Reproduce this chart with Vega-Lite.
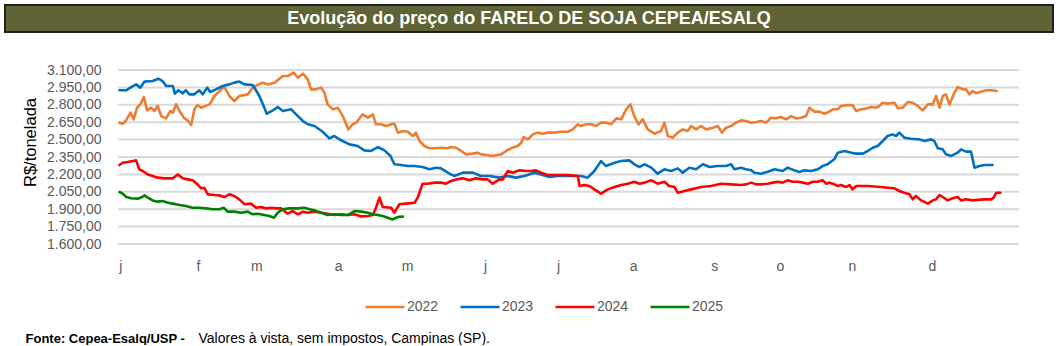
{
  "$schema": "https://vega.github.io/schema/vega-lite/v6.json",
  "padding": {"left": 4, "top": 4, "right": 5, "bottom": 0},
  "background": "white",
  "config": {"font": "Liberation Sans", "view": {"stroke": null}},
  "datasets": {
    "grade": [{"g":1600},{"g":1750},{"g":1900},{"g":2050},{"g":2200},{"g":2350},{"g":2500},{"g":2650},{"g":2800},{"g":2950},{"g":3100}],
    "precos": [
      {"ano":"2022","dia":0.4,"preco":2646},{"ano":"2022","dia":1.3,"preco":2637},{"ano":"2022","dia":2.3,"preco":2666},{"ano":"2022","dia":3.5,"preco":2732},{"ano":"2022","dia":4.4,"preco":2675},{"ano":"2022","dia":5.4,"preco":2775},{"ano":"2022","dia":6.3,"preco":2804},{"ano":"2022","dia":7.3,"preco":2867},{"ano":"2022","dia":8.2,"preco":2752},{"ano":"2022","dia":9.3,"preco":2775},{"ano":"2022","dia":10.3,"preco":2747},{"ano":"2022","dia":11.2,"preco":2790},{"ano":"2022","dia":12.2,"preco":2703},{"ano":"2022","dia":13.6,"preco":2683},{"ano":"2022","dia":14.8,"preco":2747},{"ano":"2022","dia":15.5,"preco":2732},{"ano":"2022","dia":16.4,"preco":2804},{"ano":"2022","dia":17.4,"preco":2747},{"ano":"2022","dia":18.6,"preco":2689},{"ano":"2022","dia":19.9,"preco":2660},{"ano":"2022","dia":20.7,"preco":2626},{"ano":"2022","dia":21.6,"preco":2761},{"ano":"2022","dia":22.5,"preco":2798},{"ano":"2022","dia":23.5,"preco":2775},{"ano":"2022","dia":25.9,"preco":2804},{"ano":"2022","dia":27.3,"preco":2876},{"ano":"2022","dia":29.2,"preco":2933},{"ano":"2022","dia":30.1,"preco":2953},{"ano":"2022","dia":31.5,"preco":2876},{"ano":"2022","dia":32.9,"preco":2833},{"ano":"2022","dia":34.3,"preco":2876},{"ano":"2022","dia":36.7,"preco":2890},{"ano":"2022","dia":38.1,"preco":2948},{"ano":"2022","dia":39.5,"preco":2971},{"ano":"2022","dia":40.9,"preco":2991},{"ano":"2022","dia":42.4,"preco":2976},{"ano":"2022","dia":44.3,"preco":2991},{"ano":"2022","dia":46.6,"preco":3048},{"ano":"2022","dia":48.0,"preco":3048},{"ano":"2022","dia":49.7,"preco":3077},{"ano":"2022","dia":50.9,"preco":3034},{"ano":"2022","dia":52.3,"preco":3068},{"ano":"2022","dia":53.7,"preco":3020},{"ano":"2022","dia":54.6,"preco":2933},{"ano":"2022","dia":56.0,"preco":2933},{"ano":"2022","dia":57.5,"preco":2948},{"ano":"2022","dia":58.4,"preco":2905},{"ano":"2022","dia":59.3,"preco":2804},{"ano":"2022","dia":60.8,"preco":2761},{"ano":"2022","dia":62.2,"preco":2775},{"ano":"2022","dia":63.6,"preco":2703},{"ano":"2022","dia":65.2,"preco":2588},{"ano":"2022","dia":66.4,"preco":2632},{"ano":"2022","dia":67.4,"preco":2646},{"ano":"2022","dia":69.2,"preco":2718},{"ano":"2022","dia":70.7,"preco":2689},{"ano":"2022","dia":72.1,"preco":2718},{"ano":"2022","dia":73.0,"preco":2632},{"ano":"2022","dia":74.4,"preco":2632},{"ano":"2022","dia":75.9,"preco":2617},{"ano":"2022","dia":77.3,"preco":2632},{"ano":"2022","dia":78.2,"preco":2637},{"ano":"2022","dia":79.2,"preco":2560},{"ano":"2022","dia":80.6,"preco":2574},{"ano":"2022","dia":82.0,"preco":2568},{"ano":"2022","dia":83.4,"preco":2531},{"ano":"2022","dia":84.3,"preco":2560},{"ano":"2022","dia":85.3,"preco":2488},{"ano":"2022","dia":86.7,"preco":2445},{"ano":"2022","dia":88.1,"preco":2425},{"ano":"2022","dia":89.5,"preco":2425},{"ano":"2022","dia":91.4,"preco":2430},{"ano":"2022","dia":93.3,"preco":2425},{"ano":"2022","dia":94.2,"preco":2436},{"ano":"2022","dia":95.7,"preco":2430},{"ano":"2022","dia":97.1,"preco":2402},{"ano":"2022","dia":98.5,"preco":2373},{"ano":"2022","dia":100.4,"preco":2379},{"ano":"2022","dia":101.8,"preco":2387},{"ano":"2022","dia":102.7,"preco":2373},{"ano":"2022","dia":104.2,"preco":2367},{"ano":"2022","dia":106.0,"preco":2359},{"ano":"2022","dia":108.4,"preco":2373},{"ano":"2022","dia":109.8,"preco":2402},{"ano":"2022","dia":111.2,"preco":2425},{"ano":"2022","dia":113.1,"preco":2445},{"ano":"2022","dia":114.1,"preco":2473},{"ano":"2022","dia":114.8,"preco":2522},{"ano":"2022","dia":116.0,"preco":2502},{"ano":"2022","dia":117.4,"preco":2545},{"ano":"2022","dia":118.8,"preco":2560},{"ano":"2022","dia":120.2,"preco":2551},{"ano":"2022","dia":121.6,"preco":2560},{"ano":"2022","dia":123.5,"preco":2560},{"ano":"2022","dia":125.4,"preco":2568},{"ano":"2022","dia":127.3,"preco":2568},{"ano":"2022","dia":128.7,"preco":2588},{"ano":"2022","dia":130.1,"preco":2632},{"ano":"2022","dia":131.0,"preco":2617},{"ano":"2022","dia":132.5,"preco":2632},{"ano":"2022","dia":133.9,"preco":2632},{"ano":"2022","dia":135.3,"preco":2617},{"ano":"2022","dia":136.7,"preco":2646},{"ano":"2022","dia":138.1,"preco":2646},{"ano":"2022","dia":139.5,"preco":2632},{"ano":"2022","dia":141.0,"preco":2683},{"ano":"2022","dia":142.4,"preco":2675},{"ano":"2022","dia":143.8,"preco":2761},{"ano":"2022","dia":145.0,"preco":2804},{"ano":"2022","dia":146.1,"preco":2703},{"ano":"2022","dia":147.3,"preco":2632},{"ano":"2022","dia":148.5,"preco":2675},{"ano":"2022","dia":149.9,"preco":2588},{"ano":"2022","dia":151.8,"preco":2551},{"ano":"2022","dia":153.7,"preco":2574},{"ano":"2022","dia":154.6,"preco":2646},{"ano":"2022","dia":155.6,"preco":2531},{"ano":"2022","dia":157.0,"preco":2517},{"ano":"2022","dia":158.4,"preco":2560},{"ano":"2022","dia":159.8,"preco":2588},{"ano":"2022","dia":161.2,"preco":2574},{"ano":"2022","dia":162.2,"preco":2617},{"ano":"2022","dia":163.6,"preco":2588},{"ano":"2022","dia":165.0,"preco":2617},{"ano":"2022","dia":166.4,"preco":2588},{"ano":"2022","dia":168.3,"preco":2603},{"ano":"2022","dia":169.7,"preco":2617},{"ano":"2022","dia":170.9,"preco":2560},{"ano":"2022","dia":172.1,"preco":2603},{"ano":"2022","dia":173.5,"preco":2617},{"ano":"2022","dia":174.9,"preco":2646},{"ano":"2022","dia":176.3,"preco":2666},{"ano":"2022","dia":177.7,"preco":2660},{"ano":"2022","dia":179.2,"preco":2646},{"ano":"2022","dia":180.6,"preco":2652},{"ano":"2022","dia":182.0,"preco":2660},{"ano":"2022","dia":183.4,"preco":2646},{"ano":"2022","dia":184.8,"preco":2689},{"ano":"2022","dia":186.2,"preco":2683},{"ano":"2022","dia":187.6,"preco":2695},{"ano":"2022","dia":189.1,"preco":2675},{"ano":"2022","dia":190.5,"preco":2703},{"ano":"2022","dia":191.9,"preco":2683},{"ano":"2022","dia":193.3,"preco":2689},{"ano":"2022","dia":194.7,"preco":2703},{"ano":"2022","dia":195.7,"preco":2775},{"ano":"2022","dia":197.1,"preco":2741},{"ano":"2022","dia":198.5,"preco":2741},{"ano":"2022","dia":199.9,"preco":2723},{"ano":"2022","dia":201.3,"preco":2741},{"ano":"2022","dia":202.3,"preco":2761},{"ano":"2022","dia":203.7,"preco":2761},{"ano":"2022","dia":204.6,"preco":2790},{"ano":"2022","dia":206.5,"preco":2798},{"ano":"2022","dia":207.9,"preco":2795},{"ano":"2022","dia":208.9,"preco":2746},{"ano":"2022","dia":210.3,"preco":2761},{"ano":"2022","dia":211.7,"preco":2767},{"ano":"2022","dia":213.1,"preco":2781},{"ano":"2022","dia":214.5,"preco":2775},{"ano":"2022","dia":215.5,"preco":2790},{"ano":"2022","dia":216.4,"preco":2818},{"ano":"2022","dia":217.8,"preco":2810},{"ano":"2022","dia":219.7,"preco":2818},{"ano":"2022","dia":220.7,"preco":2770},{"ano":"2022","dia":222.1,"preco":2775},{"ano":"2022","dia":223.5,"preco":2824},{"ano":"2022","dia":224.9,"preco":2818},{"ano":"2022","dia":226.3,"preco":2790},{"ano":"2022","dia":227.7,"preco":2752},{"ano":"2022","dia":229.2,"preco":2804},{"ano":"2022","dia":230.6,"preco":2804},{"ano":"2022","dia":231.5,"preco":2876},{"ano":"2022","dia":232.5,"preco":2775},{"ano":"2022","dia":233.4,"preco":2876},{"ano":"2022","dia":234.3,"preco":2890},{"ano":"2022","dia":235.3,"preco":2804},{"ano":"2022","dia":236.7,"preco":2905},{"ano":"2022","dia":237.6,"preco":2953},{"ano":"2022","dia":239.1,"preco":2933},{"ano":"2022","dia":240.0,"preco":2933},{"ano":"2022","dia":240.9,"preco":2890},{"ano":"2022","dia":241.9,"preco":2919},{"ano":"2022","dia":242.8,"preco":2899},{"ano":"2022","dia":244.2,"preco":2913},{"ano":"2022","dia":245.7,"preco":2925},{"ano":"2022","dia":247.1,"preco":2925},{"ano":"2022","dia":248.7,"preco":2919},
      {"ano":"2023","dia":0.4,"preco":2925},{"ano":"2023","dia":2.3,"preco":2925},{"ano":"2023","dia":3.7,"preco":2953},{"ano":"2023","dia":5.1,"preco":2976},{"ano":"2023","dia":6.3,"preco":2948},{"ano":"2023","dia":7.5,"preco":3000},{"ano":"2023","dia":9.8,"preco":3005},{"ano":"2023","dia":11.4,"preco":3025},{"ano":"2023","dia":12.6,"preco":3005},{"ano":"2023","dia":13.6,"preco":2962},{"ano":"2023","dia":15.5,"preco":2962},{"ano":"2023","dia":16.1,"preco":2896},{"ano":"2023","dia":17.1,"preco":2925},{"ano":"2023","dia":18.3,"preco":2899},{"ano":"2023","dia":19.2,"preco":2925},{"ano":"2023","dia":20.2,"preco":2890},{"ano":"2023","dia":21.6,"preco":2890},{"ano":"2023","dia":23.0,"preco":2925},{"ano":"2023","dia":24.0,"preco":2890},{"ano":"2023","dia":25.2,"preco":2948},{"ano":"2023","dia":26.1,"preco":2910},{"ano":"2023","dia":27.7,"preco":2933},{"ano":"2023","dia":29.6,"preco":2962},{"ano":"2023","dia":31.5,"preco":2976},{"ano":"2023","dia":32.9,"preco":2991},{"ano":"2023","dia":34.3,"preco":3000},{"ano":"2023","dia":35.8,"preco":2976},{"ano":"2023","dia":38.1,"preco":2971},{"ano":"2023","dia":40.0,"preco":2876},{"ano":"2023","dia":42.1,"preco":2723},{"ano":"2023","dia":43.8,"preco":2752},{"ano":"2023","dia":45.2,"preco":2781},{"ano":"2023","dia":46.6,"preco":2746},{"ano":"2023","dia":49.0,"preco":2761},{"ano":"2023","dia":50.4,"preco":2718},{"ano":"2023","dia":52.3,"preco":2660},{"ano":"2023","dia":53.7,"preco":2632},{"ano":"2023","dia":55.6,"preco":2617},{"ano":"2023","dia":57.9,"preco":2568},{"ano":"2023","dia":59.8,"preco":2511},{"ano":"2023","dia":61.2,"preco":2531},{"ano":"2023","dia":63.1,"preco":2494},{"ano":"2023","dia":65.5,"preco":2459},{"ano":"2023","dia":67.8,"preco":2445},{"ano":"2023","dia":69.7,"preco":2407},{"ano":"2023","dia":71.6,"preco":2402},{"ano":"2023","dia":73.5,"preco":2436},{"ano":"2023","dia":75.4,"preco":2407},{"ano":"2023","dia":77.1,"preco":2359},{"ano":"2023","dia":78.2,"preco":2287},{"ano":"2023","dia":80.1,"preco":2281},{"ano":"2023","dia":82.0,"preco":2272},{"ano":"2023","dia":83.9,"preco":2272},{"ano":"2023","dia":86.2,"preco":2264},{"ano":"2023","dia":88.1,"preco":2244},{"ano":"2023","dia":90.0,"preco":2258},{"ano":"2023","dia":91.4,"preco":2252},{"ano":"2023","dia":93.3,"preco":2215},{"ano":"2023","dia":94.2,"preco":2200},{"ano":"2023","dia":95.2,"preco":2186},{"ano":"2023","dia":97.6,"preco":2215},{"ano":"2023","dia":100.4,"preco":2215},{"ano":"2023","dia":102.7,"preco":2186},{"ano":"2023","dia":105.1,"preco":2186},{"ano":"2023","dia":107.9,"preco":2172},{"ano":"2023","dia":110.3,"preco":2186},{"ano":"2023","dia":112.6,"preco":2172},{"ano":"2023","dia":115.0,"preco":2186},{"ano":"2023","dia":117.8,"preco":2215},{"ano":"2023","dia":119.7,"preco":2200},{"ano":"2023","dia":122.1,"preco":2178},{"ano":"2023","dia":124.4,"preco":2186},{"ano":"2023","dia":127.3,"preco":2186},{"ano":"2023","dia":131.0,"preco":2186},{"ano":"2023","dia":132.9,"preco":2172},{"ano":"2023","dia":134.8,"preco":2229},{"ano":"2023","dia":136.7,"preco":2315},{"ano":"2023","dia":138.1,"preco":2272},{"ano":"2023","dia":140.5,"preco":2301},{"ano":"2023","dia":142.4,"preco":2315},{"ano":"2023","dia":144.7,"preco":2321},{"ano":"2023","dia":146.1,"preco":2287},{"ano":"2023","dia":147.6,"preco":2264},{"ano":"2023","dia":149.0,"preco":2287},{"ano":"2023","dia":150.9,"preco":2258},{"ano":"2023","dia":152.7,"preco":2206},{"ano":"2023","dia":154.6,"preco":2244},{"ano":"2023","dia":156.5,"preco":2229},{"ano":"2023","dia":158.4,"preco":2252},{"ano":"2023","dia":159.8,"preco":2215},{"ano":"2023","dia":161.7,"preco":2258},{"ano":"2023","dia":163.6,"preco":2244},{"ano":"2023","dia":165.5,"preco":2287},{"ano":"2023","dia":167.4,"preco":2264},{"ano":"2023","dia":169.7,"preco":2272},{"ano":"2023","dia":172.1,"preco":2272},{"ano":"2023","dia":173.5,"preco":2287},{"ano":"2023","dia":174.4,"preco":2244},{"ano":"2023","dia":176.3,"preco":2258},{"ano":"2023","dia":177.7,"preco":2244},{"ano":"2023","dia":179.2,"preco":2235},{"ano":"2023","dia":180.1,"preco":2215},{"ano":"2023","dia":182.0,"preco":2206},{"ano":"2023","dia":183.9,"preco":2223},{"ano":"2023","dia":185.8,"preco":2244},{"ano":"2023","dia":188.1,"preco":2229},{"ano":"2023","dia":189.5,"preco":2258},{"ano":"2023","dia":191.4,"preco":2235},{"ano":"2023","dia":192.8,"preco":2221},{"ano":"2023","dia":194.2,"preco":2235},{"ano":"2023","dia":196.1,"preco":2229},{"ano":"2023","dia":198.0,"preco":2244},{"ano":"2023","dia":199.4,"preco":2272},{"ano":"2023","dia":200.8,"preco":2287},{"ano":"2023","dia":202.7,"preco":2330},{"ano":"2023","dia":203.7,"preco":2387},{"ano":"2023","dia":205.6,"preco":2402},{"ano":"2023","dia":207.5,"preco":2387},{"ano":"2023","dia":208.9,"preco":2379},{"ano":"2023","dia":210.8,"preco":2379},{"ano":"2023","dia":212.2,"preco":2402},{"ano":"2023","dia":213.6,"preco":2430},{"ano":"2023","dia":215.0,"preco":2445},{"ano":"2023","dia":216.4,"preco":2488},{"ano":"2023","dia":217.8,"preco":2531},{"ano":"2023","dia":219.2,"preco":2545},{"ano":"2023","dia":220.2,"preco":2531},{"ano":"2023","dia":221.1,"preco":2560},{"ano":"2023","dia":222.5,"preco":2517},{"ano":"2023","dia":224.4,"preco":2508},{"ano":"2023","dia":226.8,"preco":2502},{"ano":"2023","dia":228.2,"preco":2488},{"ano":"2023","dia":230.1,"preco":2502},{"ano":"2023","dia":231.0,"preco":2488},{"ano":"2023","dia":232.0,"preco":2425},{"ano":"2023","dia":233.4,"preco":2416},{"ano":"2023","dia":234.3,"preco":2373},{"ano":"2023","dia":235.8,"preco":2359},{"ano":"2023","dia":237.6,"preco":2387},{"ano":"2023","dia":238.6,"preco":2416},{"ano":"2023","dia":240.0,"preco":2396},{"ano":"2023","dia":241.4,"preco":2396},{"ano":"2023","dia":242.4,"preco":2258},{"ano":"2023","dia":243.8,"preco":2272},{"ano":"2023","dia":245.2,"preco":2281},{"ano":"2023","dia":247.5,"preco":2281},
      {"ano":"2024","dia":0.4,"preco":2281},{"ano":"2024","dia":1.3,"preco":2301},{"ano":"2024","dia":2.7,"preco":2307},{"ano":"2024","dia":4.2,"preco":2315},{"ano":"2024","dia":5.1,"preco":2321},{"ano":"2024","dia":6.0,"preco":2244},{"ano":"2024","dia":7.0,"preco":2229},{"ano":"2024","dia":8.4,"preco":2200},{"ano":"2024","dia":9.8,"preco":2186},{"ano":"2024","dia":11.2,"preco":2172},{"ano":"2024","dia":13.1,"preco":2166},{"ano":"2024","dia":15.5,"preco":2166},{"ano":"2024","dia":16.9,"preco":2200},{"ano":"2024","dia":18.3,"preco":2166},{"ano":"2024","dia":19.7,"preco":2157},{"ano":"2024","dia":21.1,"preco":2149},{"ano":"2024","dia":22.5,"preco":2114},{"ano":"2024","dia":23.5,"preco":2080},{"ano":"2024","dia":24.4,"preco":2085},{"ano":"2024","dia":25.4,"preco":2028},{"ano":"2024","dia":27.3,"preco":2022},{"ano":"2024","dia":28.7,"preco":2019},{"ano":"2024","dia":30.1,"preco":2005},{"ano":"2024","dia":31.5,"preco":2028},{"ano":"2024","dia":32.9,"preco":2014},{"ano":"2024","dia":34.3,"preco":1985},{"ano":"2024","dia":35.8,"preco":1942},{"ano":"2024","dia":37.6,"preco":1948},{"ano":"2024","dia":39.1,"preco":1913},{"ano":"2024","dia":40.5,"preco":1919},{"ano":"2024","dia":41.9,"preco":1907},{"ano":"2024","dia":43.3,"preco":1913},{"ano":"2024","dia":44.7,"preco":1907},{"ano":"2024","dia":46.1,"preco":1907},{"ano":"2024","dia":48.0,"preco":1861},{"ano":"2024","dia":49.4,"preco":1884},{"ano":"2024","dia":50.9,"preco":1856},{"ano":"2024","dia":52.3,"preco":1878},{"ano":"2024","dia":53.7,"preco":1870},{"ano":"2024","dia":55.6,"preco":1878},{"ano":"2024","dia":57.5,"preco":1870},{"ano":"2024","dia":59.3,"preco":1861},{"ano":"2024","dia":61.2,"preco":1850},{"ano":"2024","dia":63.1,"preco":1856},{"ano":"2024","dia":65.0,"preco":1850},{"ano":"2024","dia":66.9,"preco":1856},{"ano":"2024","dia":68.8,"preco":1838},{"ano":"2024","dia":70.7,"preco":1841},{"ano":"2024","dia":72.1,"preco":1850},{"ano":"2024","dia":73.0,"preco":1913},{"ano":"2024","dia":74.0,"preco":2000},{"ano":"2024","dia":74.9,"preco":1919},{"ano":"2024","dia":77.3,"preco":1913},{"ano":"2024","dia":78.2,"preco":1870},{"ano":"2024","dia":79.6,"preco":1942},{"ano":"2024","dia":81.5,"preco":1948},{"ano":"2024","dia":83.9,"preco":1956},{"ano":"2024","dia":84.8,"preco":2000},{"ano":"2024","dia":86.2,"preco":2120},{"ano":"2024","dia":87.6,"preco":2120},{"ano":"2024","dia":89.5,"preco":2129},{"ano":"2024","dia":91.4,"preco":2129},{"ano":"2024","dia":92.8,"preco":2120},{"ano":"2024","dia":94.2,"preco":2143},{"ano":"2024","dia":95.7,"preco":2157},{"ano":"2024","dia":97.6,"preco":2166},{"ano":"2024","dia":99.4,"preco":2149},{"ano":"2024","dia":101.3,"preco":2166},{"ano":"2024","dia":103.2,"preco":2157},{"ano":"2024","dia":104.6,"preco":2157},{"ano":"2024","dia":106.0,"preco":2120},{"ano":"2024","dia":107.5,"preco":2149},{"ano":"2024","dia":108.9,"preco":2157},{"ano":"2024","dia":110.3,"preco":2229},{"ano":"2024","dia":111.7,"preco":2215},{"ano":"2024","dia":113.6,"preco":2235},{"ano":"2024","dia":115.5,"preco":2229},{"ano":"2024","dia":116.9,"preco":2229},{"ano":"2024","dia":118.3,"preco":2235},{"ano":"2024","dia":119.7,"preco":2215},{"ano":"2024","dia":121.6,"preco":2195},{"ano":"2024","dia":123.5,"preco":2195},{"ano":"2024","dia":127.3,"preco":2195},{"ano":"2024","dia":130.1,"preco":2186},{"ano":"2024","dia":130.6,"preco":2100},{"ano":"2024","dia":132.0,"preco":2108},{"ano":"2024","dia":133.4,"preco":2100},{"ano":"2024","dia":134.8,"preco":2071},{"ano":"2024","dia":136.7,"preco":2034},{"ano":"2024","dia":138.6,"preco":2071},{"ano":"2024","dia":140.5,"preco":2091},{"ano":"2024","dia":142.4,"preco":2108},{"ano":"2024","dia":144.3,"preco":2120},{"ano":"2024","dia":146.1,"preco":2137},{"ano":"2024","dia":147.6,"preco":2120},{"ano":"2024","dia":149.0,"preco":2129},{"ano":"2024","dia":150.9,"preco":2149},{"ano":"2024","dia":152.7,"preco":2120},{"ano":"2024","dia":154.6,"preco":2137},{"ano":"2024","dia":156.0,"preco":2100},{"ano":"2024","dia":157.5,"preco":2091},{"ano":"2024","dia":158.4,"preco":2042},{"ano":"2024","dia":160.3,"preco":2057},{"ano":"2024","dia":162.2,"preco":2071},{"ano":"2024","dia":165.0,"preco":2091},{"ano":"2024","dia":167.8,"preco":2100},{"ano":"2024","dia":170.7,"preco":2120},{"ano":"2024","dia":173.5,"preco":2114},{"ano":"2024","dia":176.3,"preco":2108},{"ano":"2024","dia":177.7,"preco":2114},{"ano":"2024","dia":179.2,"preco":2129},{"ano":"2024","dia":180.6,"preco":2114},{"ano":"2024","dia":182.0,"preco":2114},{"ano":"2024","dia":183.9,"preco":2120},{"ano":"2024","dia":185.3,"preco":2129},{"ano":"2024","dia":186.7,"preco":2137},{"ano":"2024","dia":188.1,"preco":2129},{"ano":"2024","dia":189.5,"preco":2149},{"ano":"2024","dia":190.9,"preco":2137},{"ano":"2024","dia":192.4,"preco":2137},{"ano":"2024","dia":193.8,"preco":2129},{"ano":"2024","dia":195.2,"preco":2120},{"ano":"2024","dia":196.6,"preco":2137},{"ano":"2024","dia":198.0,"preco":2137},{"ano":"2024","dia":199.4,"preco":2149},{"ano":"2024","dia":200.4,"preco":2120},{"ano":"2024","dia":201.3,"preco":2129},{"ano":"2024","dia":202.3,"preco":2120},{"ano":"2024","dia":203.7,"preco":2100},{"ano":"2024","dia":204.6,"preco":2108},{"ano":"2024","dia":206.0,"preco":2091},{"ano":"2024","dia":207.0,"preco":2108},{"ano":"2024","dia":207.9,"preco":2071},{"ano":"2024","dia":208.9,"preco":2100},{"ano":"2024","dia":212.2,"preco":2100},{"ano":"2024","dia":215.9,"preco":2091},{"ano":"2024","dia":217.8,"preco":2085},{"ano":"2024","dia":219.7,"preco":2080},{"ano":"2024","dia":221.1,"preco":2057},{"ano":"2024","dia":222.5,"preco":2042},{"ano":"2024","dia":224.0,"preco":2028},{"ano":"2024","dia":224.9,"preco":1985},{"ano":"2024","dia":225.8,"preco":2014},{"ano":"2024","dia":227.3,"preco":1976},{"ano":"2024","dia":229.2,"preco":1948},{"ano":"2024","dia":230.6,"preco":1976},{"ano":"2024","dia":231.5,"preco":1985},{"ano":"2024","dia":232.5,"preco":2022},{"ano":"2024","dia":233.4,"preco":2005},{"ano":"2024","dia":234.8,"preco":1976},{"ano":"2024","dia":236.2,"preco":1994},{"ano":"2024","dia":237.6,"preco":2005},{"ano":"2024","dia":238.6,"preco":1976},{"ano":"2024","dia":240.0,"preco":1985},{"ano":"2024","dia":241.9,"preco":1976},{"ano":"2024","dia":245.2,"preco":1985},{"ano":"2024","dia":247.1,"preco":1985},{"ano":"2024","dia":247.8,"preco":2000},{"ano":"2024","dia":248.5,"preco":2042},{"ano":"2024","dia":249.7,"preco":2042},
      {"ano":"2025","dia":0.4,"preco":2048},{"ano":"2025","dia":1.3,"preco":2034},{"ano":"2025","dia":2.3,"preco":2005},{"ano":"2025","dia":3.7,"preco":1994},{"ano":"2025","dia":5.6,"preco":1991},{"ano":"2025","dia":6.5,"preco":2000},{"ano":"2025","dia":7.5,"preco":2019},{"ano":"2025","dia":8.4,"preco":2000},{"ano":"2025","dia":9.8,"preco":1976},{"ano":"2025","dia":11.2,"preco":1965},{"ano":"2025","dia":12.6,"preco":1971},{"ano":"2025","dia":14.1,"preco":1956},{"ano":"2025","dia":15.5,"preco":1948},{"ano":"2025","dia":17.4,"preco":1936},{"ano":"2025","dia":19.2,"preco":1927},{"ano":"2025","dia":21.1,"preco":1913},{"ano":"2025","dia":23.0,"preco":1913},{"ano":"2025","dia":24.9,"preco":1907},{"ano":"2025","dia":26.8,"preco":1899},{"ano":"2025","dia":28.7,"preco":1899},{"ano":"2025","dia":29.9,"preco":1913},{"ano":"2025","dia":31.0,"preco":1879},{"ano":"2025","dia":32.9,"preco":1879},{"ano":"2025","dia":34.8,"preco":1870},{"ano":"2025","dia":36.7,"preco":1879},{"ano":"2025","dia":38.1,"preco":1856},{"ano":"2025","dia":39.5,"preco":1861},{"ano":"2025","dia":41.4,"preco":1850},{"ano":"2025","dia":42.8,"preco":1841},{"ano":"2025","dia":44.1,"preco":1827},{"ano":"2025","dia":45.2,"preco":1870},{"ano":"2025","dia":46.6,"preco":1899},{"ano":"2025","dia":48.5,"preco":1907},{"ano":"2025","dia":50.9,"preco":1907},{"ano":"2025","dia":52.7,"preco":1913},{"ano":"2025","dia":54.2,"preco":1899},{"ano":"2025","dia":55.6,"preco":1890},{"ano":"2025","dia":57.5,"preco":1870},{"ano":"2025","dia":59.3,"preco":1850},{"ano":"2025","dia":61.2,"preco":1856},{"ano":"2025","dia":63.1,"preco":1850},{"ano":"2025","dia":65.0,"preco":1850},{"ano":"2025","dia":66.9,"preco":1884},{"ano":"2025","dia":68.8,"preco":1879},{"ano":"2025","dia":70.7,"preco":1870},{"ano":"2025","dia":72.1,"preco":1856},{"ano":"2025","dia":73.5,"preco":1850},{"ano":"2025","dia":74.9,"preco":1841},{"ano":"2025","dia":76.3,"preco":1827},{"ano":"2025","dia":77.7,"preco":1812},{"ano":"2025","dia":79.2,"preco":1833},{"ano":"2025","dia":80.6,"preco":1836}
    ]
  },
  "spacing": 38,
  "bounds": "flush",
  "vconcat": [
    {
      "width": 1048,
      "height": 27,
      "view": {"fill": "#606336", "stroke": "#1f1f1f", "strokeWidth": 2},
      "data": {"values": [{"titulo": "Evolução do preço do FARELO DE SOJA CEPEA/ESALQ"}]},
      "mark": {"type": "text", "color": "white", "fontWeight": "bold", "fontSize": 18, "font": "Liberation Sans", "baseline": "middle", "align": "center"},
      "encoding": {"text": {"field": "titulo", "type": "nominal"}}
    },
    {
      "width": 1048,
      "height": 174,
      "resolve": {"axis": {"x": "independent"}},
      "layer": [
        {
          "data": {"name": "grade"},
          "mark": {"type": "rule", "color": "#d9d9d9", "strokeWidth": 2},
          "encoding": {
            "y": {"field": "g", "type": "quantitative", "scale": {"domain": [1600, 3100], "nice": false, "zero": false},
              "axis": {"values": [1600, 1750, 1900, 2050, 2200, 2350, 2500, 2650, 2800, 2950, 3100],
                "labelExpr": "replace(replace(replace(format(datum.value, ',.2f'), ',', '#'), '.', ','), '#', '.')",
                "offset": -100, "domain": false, "ticks": false, "grid": false, "labelFontSize": 14, "labelColor": "#595959", "labelPadding": 4,
                "title": "R$/tonelada", "titleFontSize": 16.5, "titleFontWeight": "normal", "titleColor": "black",
                "titleX": -75, "titleY": 72, "titleAngle": -90, "titleAlign": "center", "titleBaseline": "middle"}},
            "x": {"datum": 0, "type": "quantitative", "scale": {"domain": [-32, 264.6], "nice": false, "zero": false},
              "axis": {"orient": "bottom", "labels": false, "ticks": false, "domain": false, "grid": false,
                "title": "Fonte: Cepea-Esalq/USP -", "titleFontSize": 13, "titleFontWeight": "bold", "titleColor": "black",
                "titleX": 20, "titleY": 94, "titleAlign": "left", "titleBaseline": "middle", "titleAnchor": null}},
            "x2": {"datum": 255}
          }
        },
        {
          "data": {"name": "precos"},
          "mark": {"type": "line", "strokeJoin": "round", "strokeCap": "round"},
          "encoding": {
            "x": {"field": "dia", "type": "quantitative", "scale": {"domain": [-32, 264.6], "nice": false, "zero": false},
              "axis": {"orient": "bottom", "values": [0.6, 22.6, 39.1, 62.3, 81.8, 103.9, 124.5, 145.8, 168.7, 187.3, 207.7, 230.3],
                "labelExpr": "datum.value < 10 ? 'j' : datum.value < 30 ? 'f' : datum.value < 50 ? 'm' : datum.value < 70 ? 'a' : datum.value < 90 ? 'm' : datum.value < 115 ? 'j' : datum.value < 135 ? 'j' : datum.value < 155 ? 'a' : datum.value < 178 ? 's' : datum.value < 198 ? 'o' : datum.value < 220 ? 'n' : 'd'",
                "domain": false, "ticks": false, "grid": false, "labelFontSize": 14, "labelColor": "#595959", "labelPadding": 15,
                "labelFlush": false, "labelOverlap": false,
                "title": "Valores à vista, sem impostos, Campinas (SP).", "titleFontSize": 14, "titleFontWeight": "normal", "titleColor": "black",
                "titleX": 193, "titleY": 94, "titleAlign": "left", "titleBaseline": "middle", "titleAnchor": null}},
            "y": {"field": "preco", "type": "quantitative", "scale": {"domain": [1600, 3100], "nice": false, "zero": false},
              "axis": {"values": [1600, 1750, 1900, 2050, 2200, 2350, 2500, 2650, 2800, 2950, 3100],
                "labelExpr": "replace(replace(replace(format(datum.value, ',.2f'), ',', '#'), '.', ','), '#', '.')",
                "offset": -100, "domain": false, "ticks": false, "grid": false, "labelFontSize": 14, "labelColor": "#595959", "labelPadding": 4,
                "title": "R$/tonelada", "titleFontSize": 16.5, "titleFontWeight": "normal", "titleColor": "black",
                "titleX": -75, "titleY": 72, "titleAngle": -90, "titleAlign": "center", "titleBaseline": "middle"}},
            "color": {"field": "ano", "type": "ordinal",
              "scale": {"domain": ["2022", "2023", "2024", "2025"], "range": ["#ED7D31", "#0070C0", "#FF0000", "#008000"]},
              "legend": {"orient": "none", "direction": "horizontal", "legendX": 359, "legendY": 281, "title": null,
                "symbolType": "stroke", "symbolSize": 1521, "labelFontSize": 14, "labelColor": "#595959", "columnPadding": 16, "labelOffset": 1, "padding": 0}},
            "strokeWidth": {"field": "ano", "type": "ordinal",
              "scale": {"domain": ["2022", "2023", "2024", "2025"], "range": [2.6, 2.6, 2.6, 4.5]},
              "legend": {"orient": "none", "direction": "horizontal", "legendX": 359, "legendY": 281, "title": null,
                "symbolType": "stroke", "symbolSize": 1521, "labelFontSize": 14, "labelColor": "#595959", "columnPadding": 16, "labelOffset": 1, "padding": 0}}
          }
        }
      ]
    }
  ]
}
